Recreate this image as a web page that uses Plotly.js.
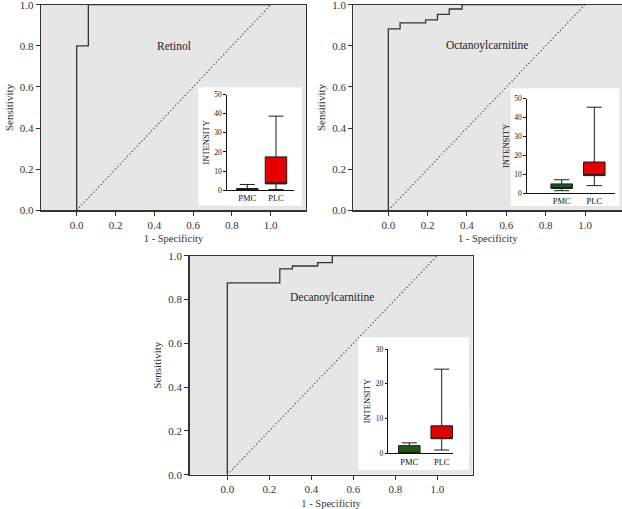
<!DOCTYPE html>
<html><head><meta charset="utf-8">
<script src="https://cdn.plot.ly/plotly-3.0.1.min.js"></script>
<style>html,body{margin:0;padding:0;background:#fff}#chart{width:622px;height:509px}</style>
</head><body><div id="chart"></div>
<script>
// ---------------- data ----------------
const panelNames = ['Retinol', 'Octanoylcarnitine', 'Decanoylcarnitine'];

const retinolFpr = [0, 0, 0.06, 0.06, 1];
const retinolTpr = [0, 0.8, 0.8, 1, 1];
const octanoylFpr = [0, 0, 0.06, 0.06, 0.19, 0.19, 0.25, 0.25, 0.31, 0.31, 0.375, 0.375, 1];
const octanoylTpr = [0, 0.882, 0.882, 0.912, 0.912, 0.926, 0.926, 0.953, 0.953, 0.979, 0.979, 1, 1];
const decanoylFpr = [0, 0, 0.25, 0.25, 0.31, 0.31, 0.43, 0.43, 0.5, 0.5, 1];
const decanoylTpr = [0, 0.876, 0.876, 0.94, 0.94, 0.953, 0.953, 0.968, 0.968, 1, 1];
const chanceX = [0, 1];
const chanceY = [0, 1];

const groups = ['PMC', 'PLC'];
// box statistics per group [PMC, PLC]
const retinolLow   = [0, 0.4];
const retinolQ1    = [0, 3.3];
const retinolQ3    = [0.9, 17.4];
const retinolHigh  = [3.0, 38.7];
const octanoylLow  = [1.2, 3.9];
const octanoylQ1   = [2.4, 9.2];
const octanoylQ3   = [4.8, 16.4];
const octanoylHigh = [7.0, 45.4];
const decanoylLow  = [0, 0.95];
const decanoylQ1   = [0, 4.2];
const decanoylQ3   = [2.2, 7.9];
const decanoylHigh = [3.0, 24.2];

const rocTicks = [0, 0.2, 0.4, 0.6, 0.8, 1.0];
const insetTicks50 = [0, 10, 20, 30, 40, 50];
const insetTicks30 = [0, 10, 20, 30];
const insetMax = [50, 50, 30];

// ---------------- layout geometry (pixels) ----------------
const W = 622, H = 509;
const FONT = 'Liberation Serif, Times New Roman, serif';
const panels = [
  {left: 41, right: 306, x0: 76.7, x1: 270.7, yTop: 4.7, yBot: 210.3,
   inset: {ax0: 226.7, ax1: 294, ayTop: 94.5, ayBot: 190.2, pmc: 247.3, plc: 276,
           wx0: 198.3, wx1: 301.5, wy0: 87.3, wy1: 205.7}, labY: 0.8},
  {left: 353.3, right: 622, x0: 388.3, x1: 585, yTop: 4.7, yBot: 210.3,
   inset: {ax0: 526.7, ax1: 615, ayTop: 98.5, ayBot: 193, pmc: 561.7, plc: 594.3,
           wx0: 510.7, wx1: 619.3, wy0: 88.3, wy1: 206}, labY: 0.8},
  {left: 189.5, right: 472.7, x0: 227.3, x1: 437.3, yTop: 255.7, yBot: 474.7,
   inset: {ax0: 388.3, ax1: 453.3, ayTop: 349, ayBot: 453.3, pmc: 409.3, plc: 441.7,
           wx0: 358.3, wx1: 469, wy0: 337.3, wy1: 470}, labY: 0.81}
];

const rocX = [retinolFpr, octanoylFpr, decanoylFpr];
const rocY = [retinolTpr, octanoylTpr, decanoylTpr];
const boxStats = [
  [retinolLow, retinolQ1, retinolQ3, retinolHigh],
  [octanoylLow, octanoylQ1, octanoylQ3, octanoylHigh],
  [decanoylLow, decanoylQ1, decanoylQ3, decanoylHigh]
];
const boxColors = ['#1f5a1c', '#e30000'];

const traces = [];
const layout = {
  width: W, height: H, margin: {l: 0, r: 0, t: 0, b: 0},
  paper_bgcolor: '#ffffff', plot_bgcolor: '#ffffff',
  showlegend: false, shapes: [], annotations: [],
  font: {family: FONT, color: '#333333', size: 10}
};

panels.forEach((p, i) => {
  const n = i + 1, m = i + 4;
  const xs = n === 1 ? '' : String(n);
  const ms = String(m);
  const sx = p.x1 - p.x0, sy = p.yBot - p.yTop;
  const xr = [(p.left - p.x0) / sx, (p.right - p.x0) / sx];
  // main ROC axes
  layout['xaxis' + xs] = {
    domain: [p.left / W, p.right / W], range: xr, anchor: 'y' + xs,
    showgrid: false, zeroline: false, showline: true, mirror: true,
    linecolor: '#333333', linewidth: 1.2, ticks: 'outside', ticklen: 4, tickwidth: 1,
    tickcolor: '#333333', tickvals: rocTicks, tickformat: '.1f', ticklabeloverflow: 'allow',
    tickfont: {family: FONT, size: 11, color: '#333333'},
    title: {text: '1 - Specificity', standoff: 5, font: {family: FONT, size: 10.5, color: '#333333'}}
  };
  layout['yaxis' + xs] = {
    domain: [1 - p.yBot / H, 1 - p.yTop / H], range: [0, 1], anchor: 'x' + xs,
    showgrid: false, zeroline: false, showline: true, mirror: true,
    linecolor: '#333333', linewidth: 1.2, ticks: 'outside', ticklen: 4, tickwidth: 1,
    tickcolor: '#333333', tickvals: rocTicks, tickformat: '.1f', ticklabeloverflow: 'allow',
    tickfont: {family: FONT, size: 11, color: '#333333'},
    title: {text: 'Sensitivity', standoff: 4, font: {family: FONT, size: 11, color: '#333333'}}
  };
  // gray plot background
  layout.shapes.push({type: 'rect', xref: 'x' + xs, yref: 'y' + xs, layer: 'below',
    x0: xr[0], x1: xr[1], y0: 0, y1: 1, fillcolor: '#e6e6e6', line: {width: 0}});
  // white inset panel
  const q = p.inset;
  layout.shapes.push({type: 'rect', xref: 'x' + xs, yref: 'y' + xs, layer: 'below',
    x0: (q.wx0 - p.x0) / sx, x1: (q.wx1 - p.x0) / sx,
    y0: (p.yBot - q.wy1) / sy, y1: (p.yBot - q.wy0) / sy,
    fillcolor: '#ffffff', line: {width: 0}});
  // ROC curve and chance line
  traces.push({type: 'scatter', mode: 'lines', x: chanceX, y: chanceY, xaxis: 'x' + xs, yaxis: 'y' + xs,
    line: {color: '#444444', width: 1.2, dash: '1.2px,2.3px'}, hoverinfo: 'skip'});
  traces.push({type: 'scatter', mode: 'lines', x: rocX[i], y: rocY[i], xaxis: 'x' + xs, yaxis: 'y' + xs,
    line: {color: '#333333', width: 1.3}, hoverinfo: 'skip'});
  layout.annotations.push({xref: 'x' + xs, yref: 'y' + xs, x: 0.5, y: p.labY, text: panelNames[i],
    showarrow: false, font: {family: FONT, size: 11.5, color: '#222222'}});

  // inset box plot axes
  const cs = q.plc - q.pmc;
  layout['xaxis' + ms] = {
    domain: [q.ax0 / W, q.ax1 / W], range: [(q.ax0 - q.pmc) / cs, (q.ax1 - q.pmc) / cs],
    anchor: 'y' + ms, showgrid: false, zeroline: false, showline: true, linecolor: '#111111',
    linewidth: 1, ticks: '', tickvals: [0, 1], ticktext: groups,
    tickfont: {family: FONT, size: 8.5, color: '#111111'}
  };
  layout['yaxis' + ms] = {
    domain: [1 - q.ayBot / H, 1 - q.ayTop / H], range: [0, insetMax[i]],
    anchor: 'x' + ms, showgrid: false, zeroline: false, showline: true, linecolor: '#111111',
    linewidth: 1, ticks: 'outside', ticklen: 2.5, tickwidth: 1, tickcolor: '#111111',
    tickvals: insetMax[i] === 50 ? insetTicks50 : insetTicks30,
    tickfont: {family: FONT, size: 7.5, color: '#111111'},
    title: {text: 'INTENSITY', standoff: 3, font: {family: FONT, size: 8.5, color: '#111111'}}
  };
  const st = boxStats[i];
  [0, 1].forEach(g => {
    traces.push({type: 'box', x: [g], lowerfence: [st[0][g]], q1: [st[1][g]], median: [st[1][g]],
      q3: [st[2][g]], upperfence: [st[3][g]], width: 21.5 / cs, whiskerwidth: 0.7,
      fillcolor: boxColors[g], line: {color: '#1a1a1a', width: 1}, boxpoints: false,
      xaxis: 'x' + ms, yaxis: 'y' + ms, hoverinfo: 'skip', name: groups[g]});
  });
});

Plotly.newPlot('chart', traces, layout, {staticPlot: true});
</script>
</body></html>
